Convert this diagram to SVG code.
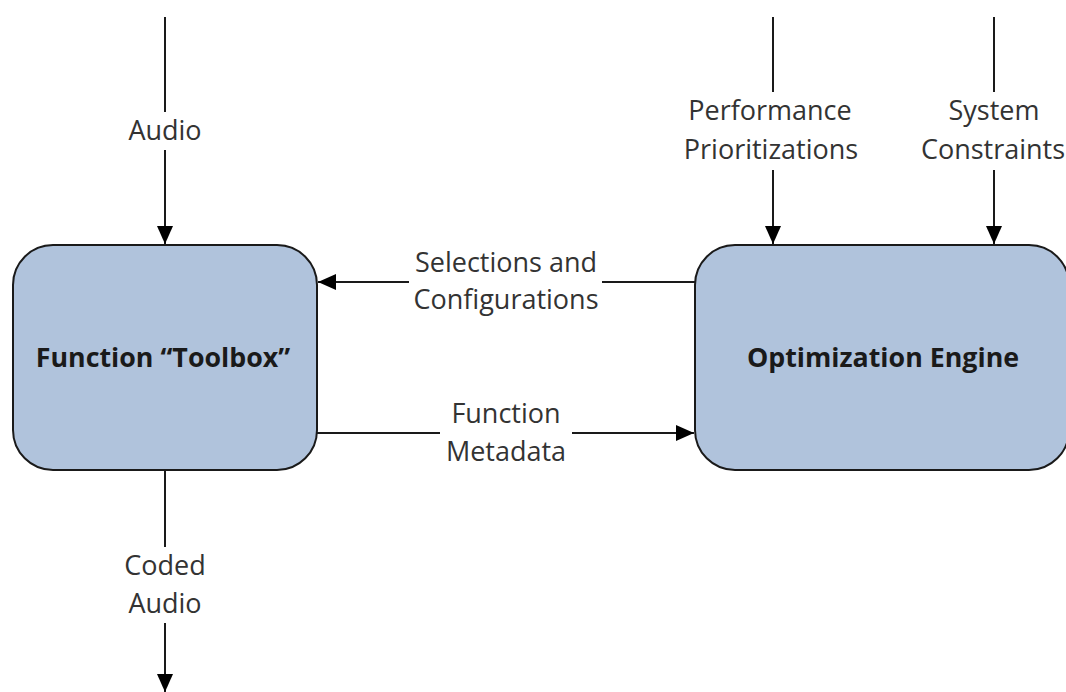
<svg xmlns="http://www.w3.org/2000/svg" width="1066" height="692" viewBox="0 0 1066 692">
  <style>
    .box { fill: #b0c3dc; stroke: #1a1a1a; stroke-width: 2; }
    .title { font-family: "Open Sans", "Liberation Sans", sans-serif; font-size: 26.8px; font-weight: bold; fill: #1a1a1a; text-anchor: middle; }
    .lbl { font-family: "Open Sans", "Liberation Sans", sans-serif; font-size: 27px; fill: #333333; text-anchor: middle; }
    .wire { stroke: #1a1a1a; stroke-width: 2; fill: none; }
  </style>
  <defs>
    <marker id="head" viewBox="0 0 18 16" refX="18" refY="8" markerWidth="18" markerHeight="16" markerUnits="userSpaceOnUse" orient="auto">
      <path d="M0,0 L18,8 L0,16 Z" fill="#000000"/>
    </marker>
  </defs>

  <!-- Nodes -->
  <g id="toolbox">
    <rect class="box" x="13" y="245" width="304" height="225" rx="40" ry="40"/>
    <text class="title" x="163" y="367">Function “Toolbox”</text>
  </g>
  <g id="engine">
    <rect class="box" x="695" y="245" width="374" height="225" rx="40" ry="40"/>
    <text class="title" x="883" y="367">Optimization Engine</text>
  </g>

  <!-- Connectors -->
  <g id="connectors">
    <!-- Audio in -->
    <line class="wire" x1="165" y1="17" x2="165" y2="112"/>
    <line class="wire" x1="165" y1="150" x2="165" y2="244" marker-end="url(#head)"/>
    <!-- Performance prioritizations -->
    <line class="wire" x1="773" y1="17" x2="773" y2="92"/>
    <line class="wire" x1="773" y1="170" x2="773" y2="244" marker-end="url(#head)"/>
    <!-- System constraints -->
    <line class="wire" x1="994" y1="17" x2="994" y2="92"/>
    <line class="wire" x1="994" y1="170" x2="994" y2="244" marker-end="url(#head)"/>
    <!-- Selections and configurations -->
    <line class="wire" x1="695" y1="282" x2="602" y2="282"/>
    <line class="wire" x1="409" y1="282" x2="318" y2="282" marker-end="url(#head)"/>
    <!-- Function metadata -->
    <line class="wire" x1="317" y1="433" x2="440" y2="433"/>
    <line class="wire" x1="572" y1="433" x2="694" y2="433" marker-end="url(#head)"/>
    <!-- Coded audio out -->
    <line class="wire" x1="165" y1="471" x2="165" y2="547"/>
    <line class="wire" x1="165" y1="623" x2="165" y2="692" marker-end="url(#head)"/>
  </g>

  <!-- Connector labels -->
  <g id="labels">
    <text class="lbl" x="165" y="140">Audio</text>
    <text class="lbl" x="770" y="120">Performance</text>
    <text class="lbl" x="771" y="159">Prioritizations</text>
    <text class="lbl" x="994" y="120">System</text>
    <text class="lbl" x="993" y="159">Constraints</text>
    <text class="lbl" x="506" y="272">Selections and</text>
    <text class="lbl" x="506" y="309">Configurations</text>
    <text class="lbl" x="506" y="423">Function</text>
    <text class="lbl" x="506" y="461">Metadata</text>
    <text class="lbl" x="165" y="575">Coded</text>
    <text class="lbl" x="165" y="613">Audio</text>
  </g>
</svg>
